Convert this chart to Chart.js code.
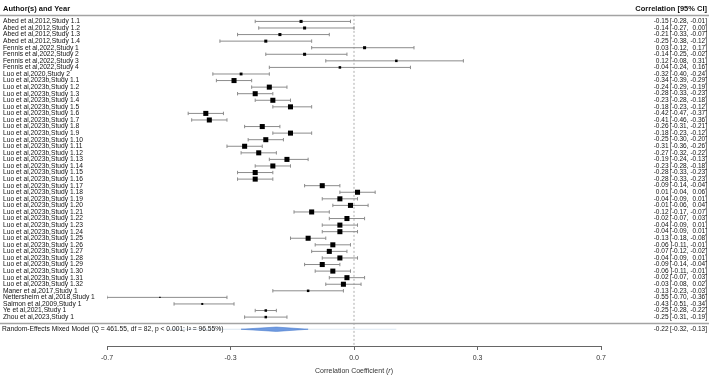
<!DOCTYPE html>
<html>
<head>
<meta charset="utf-8">
<script src="https://cdn.jsdelivr.net/npm/chart.js@4.4.1/dist/chart.umd.min.js"></script>
<style>
  html, body { margin: 0; padding: 0; background: #fff; }
  #wrap { width: 709px; height: 375px; position: relative; }
</style>
</head>
<body>
<div id="wrap"><canvas id="forest"></canvas></div>
<script>
const labels = [
    'Abed et al,2012,Study 1.1', 'Abed et al,2012,Study 1.2', 'Abed et al,2012,Study 1.3', 'Abed et al,2012,Study 1.4',
    'Fennis et al,2022,Study 1', 'Fennis et al,2022,Study 2', 'Fennis et al,2022,Study 3', 'Fennis et al,2022,Study 4',
    'Luo et al,2020,Study 2',
    'Luo et al,2023b,Study 1.1', 'Luo et al,2023b,Study 1.2', 'Luo et al,2023b,Study 1.3', 'Luo et al,2023b,Study 1.4',
    'Luo et al,2023b,Study 1.5', 'Luo et al,2023b,Study 1.6', 'Luo et al,2023b,Study 1.7', 'Luo et al,2023b,Study 1.8',
    'Luo et al,2023b,Study 1.9', 'Luo et al,2023b,Study 1.10', 'Luo et al,2023b,Study 1.11', 'Luo et al,2023b,Study 1.12',
    'Luo et al,2023b,Study 1.13', 'Luo et al,2023b,Study 1.14', 'Luo et al,2023b,Study 1.15', 'Luo et al,2023b,Study 1.16',
    'Luo et al,2023b,Study 1.17', 'Luo et al,2023b,Study 1.18', 'Luo et al,2023b,Study 1.19', 'Luo et al,2023b,Study 1.20',
    'Luo et al,2023b,Study 1.21', 'Luo et al,2023b,Study 1.22', 'Luo et al,2023b,Study 1.23', 'Luo et al,2023b,Study 1.24',
    'Luo et al,2023b,Study 1.25', 'Luo et al,2023b,Study 1.26', 'Luo et al,2023b,Study 1.27', 'Luo et al,2023b,Study 1.28',
    'Luo et al,2023b,Study 1.29', 'Luo et al,2023b,Study 1.30', 'Luo et al,2023b,Study 1.31', 'Luo et al,2023b,Study 1.32',
    'Maner et al,2017,Study 1', 'Nettersheim et al,2018,Study 1', 'Salmon et al,2009,Study 1',
    'Ye et al,2021,Study 1', 'Zhou et al,2023,Study 1'
];

const estimates = [
    -0.15, -0.14, -0.21, -0.25,
    0.03, -0.14, 0.12, -0.04,
    -0.32,
    -0.34, -0.24, -0.28, -0.23, -0.18, -0.42, -0.41, -0.26,
    -0.18, -0.25, -0.31, -0.27, -0.19, -0.23, -0.28, -0.28,
    -0.09, 0.01, -0.04, -0.01, -0.12, -0.02, -0.04, -0.04,
    -0.13, -0.06, -0.07, -0.04, -0.09, -0.06, -0.02, -0.03,
    -0.13, -0.55, -0.43, -0.25, -0.25
];

const ciLow = [
    -0.28, -0.27, -0.33, -0.38,
    -0.12, -0.25, -0.08, -0.24,
    -0.40,
    -0.39, -0.29, -0.33, -0.28, -0.23, -0.47, -0.46, -0.31,
    -0.23, -0.30, -0.36, -0.32, -0.24, -0.28, -0.33, -0.33,
    -0.14, -0.04, -0.09, -0.06, -0.17, -0.07, -0.09, -0.09,
    -0.18, -0.11, -0.12, -0.09, -0.14, -0.11, -0.07, -0.08,
    -0.23, -0.70, -0.51, -0.28, -0.31
];

const ciHigh = [
    -0.01, -0.00, -0.07, -0.12,
    0.17, -0.02, 0.31, 0.16,
    -0.24,
    -0.29, -0.19, -0.23, -0.18, -0.12, -0.37, -0.36, -0.21,
    -0.12, -0.20, -0.26, -0.22, -0.13, -0.18, -0.23, -0.23,
    -0.04, 0.06, 0.01, 0.04, -0.07, 0.03, 0.01, 0.01,
    -0.08, -0.01, -0.02, 0.01, -0.04, -0.01, 0.03, 0.02,
    -0.03, -0.36, -0.34, -0.22, -0.19
];

// relative study weights (drive the square size)
const weights = [
    1.45, 1.45, 1.45, 1.45,
    1.45, 1.45, 1.2, 1.2,
    1.35,
    2.4, 2.4, 2.4, 2.4, 2.4, 2.4, 2.4, 2.4,
    2.4, 2.4, 2.4, 2.4, 2.4, 2.4, 2.4, 2.4,
    2.4, 2.4, 2.4, 2.4, 2.4, 2.4, 2.4, 2.4,
    2.4, 2.4, 2.4, 2.4, 2.4, 2.4, 2.4, 2.4,
    1.2, 0.7, 0.95, 1.2, 1.2
];

const pooledEst = -0.22;
const pooledLow = -0.32;
const pooledHigh = -0.13;
const predLow = -0.53;
const predHigh = 0.12;
const modelText = 'Random-Effects Mixed Model (Q = 461.55, df = 82, p < 0.001; I\u00B2 = 96.55%)';

const xTicks = [-0.7, -0.35, 0, 0.35, 0.7];
const xTickLabels = ['-0.7', '-0.3', '0.0', '0.3', '0.7'];

const FONT = 'Liberation Sans, Arial, sans-serif';
const nRows = labels.length;
const summaryRow = nRows + 1.85;
const ruleRow = nRows + 0.93;
const headerRow = -0.85;

function fmt(v) {
    return (v < 0 ? '-' : '') + Math.abs(v).toFixed(2);
}

const pointData = estimates.map((e, i) => ({ x: e, y: i + 1 }));
const ciData = [];
estimates.forEach((e, i) => {
    ciData.push({ x: ciLow[i], y: i + 1 });
    ciData.push({ x: ciHigh[i], y: i + 1 });
    ciData.push({ x: null, y: null });
});
const diamondH = 0.33;
const diamondData = [
    { x: pooledLow, y: summaryRow },
    { x: pooledEst, y: summaryRow - diamondH },
    { x: pooledHigh, y: summaryRow },
    { x: pooledEst, y: summaryRow + diamondH },
    { x: pooledLow, y: summaryRow }
];

const textPlugin = {
    id: 'forestText',
    afterDraw(chart) {
        const ctx = chart.ctx;
        const y = chart.scales.y;
        const x = chart.scales.x;
        const W = chart.width;
        ctx.save();

        // rules
        ctx.strokeStyle = '#a3a3a3';
        ctx.lineWidth = 1.5;
        [0, ruleRow].forEach(r => {
            const py = Math.round(y.getPixelForValue(r)) + 0.5;
            ctx.beginPath();
            ctx.moveTo(0, py);
            ctx.lineTo(W, py);
            ctx.stroke();
        });

        ctx.fillStyle = '#111';
        ctx.textBaseline = 'middle';

        // headers
        ctx.font = 'bold 7.5px ' + FONT;
        ctx.textAlign = 'left';
        ctx.fillText('Author(s) and Year', 3, y.getPixelForValue(headerRow));
        ctx.textAlign = 'right';
        ctx.fillText('Correlation [95% CI]', W - 2, y.getPixelForValue(headerRow));

        // study labels
        ctx.font = '6.7px ' + FONT;
        ctx.textAlign = 'left';
        labels.forEach((lab, i) => {
            ctx.fillText(lab, 3, y.getPixelForValue(i + 1));
        });
        ctx.fillText(modelText, 2, y.getPixelForValue(summaryRow));

        // annotation column
        ctx.font = '6.5px ' + FONT;
        ctx.textAlign = 'right';
        const drawCI = (e, lo, hi, py) => {
            ctx.fillText(fmt(e), W - 40.5, py);
            ctx.fillText('[' + fmt(lo) + ',', W - 20.5, py);
            ctx.fillText(fmt(hi) + ']', W - 2, py);
        };
        estimates.forEach((e, i) => drawCI(e, ciLow[i], ciHigh[i], y.getPixelForValue(i + 1)));
        drawCI(pooledEst, pooledLow, pooledHigh, y.getPixelForValue(summaryRow));

        // axis title with italic r
        ctx.font = '7px ' + FONT;
        ctx.fillStyle = '#333';
        const a = 'Correlation Coefficient (';
        const c = ')';
        const wa = ctx.measureText(a).width;
        const wc = ctx.measureText(c).width;
        ctx.font = 'italic 7px ' + FONT;
        const wb = ctx.measureText('r').width;
        let px = x.getPixelForValue(0) - (wa + wb + wc) / 2;
        const ty = chart.height - 4;
        ctx.textAlign = 'left';
        ctx.font = '7px ' + FONT;
        ctx.fillText(a, px, ty);
        ctx.font = 'italic 7px ' + FONT;
        ctx.fillText('r', px + wa, ty);
        ctx.font = '7px ' + FONT;
        ctx.fillText(c, px + wa + wb, ty);

        ctx.restore();
    }
};

new Chart(document.getElementById('forest'), {
    type: 'scatter',
    data: {
        datasets: [
            {
                data: pointData,
                pointStyle: 'rect',
                pointRadius: weights.map(w => (w * 2.1) / Math.SQRT2),
                backgroundColor: '#000',
                borderWidth: 0,
                order: 0
            },
            {
                data: ciData,
                showLine: true,
                spanGaps: false,
                borderColor: '#8c8c8c',
                borderWidth: 1,
                pointStyle: 'line',
                rotation: 90,
                pointRadius: 1.7,
                pointBorderWidth: 1,
                pointBorderColor: '#8c8c8c',
                order: 1
            },
            {
                data: diamondData,
                showLine: true,
                fill: 'shape',
                backgroundColor: '#6f9ae0',
                borderColor: '#4f7fcf',
                borderWidth: 0.6,
                pointRadius: 0,
                order: 2
            },
            {
                data: [{ x: predLow, y: summaryRow }, { x: predHigh, y: summaryRow }],
                showLine: true,
                borderColor: '#dbe7f2',
                borderWidth: 1,
                pointRadius: 0,
                order: 3
            },
            {
                data: [{ x: 0, y: 0 }, { x: 0, y: nRows + 4.4 }],
                showLine: true,
                borderColor: '#9a9a9a',
                borderWidth: 0.8,
                borderDash: [2, 2],
                pointRadius: 0,
                order: 4
            }
        ]
    },
    options: {
        responsive: true,
        maintainAspectRatio: false,
        animation: false,
        events: [],
        layout: { padding: { left: 107, right: 108, top: 0, bottom: 0 } },
        plugins: {
            legend: { display: false },
            tooltip: { enabled: false }
        },
        scales: {
            x: {
                type: 'linear',
                min: -0.7,
                max: 0.7,
                afterBuildTicks: scale => {
                    scale.ticks = xTicks.map(v => ({ value: v }));
                },
                afterFit: scale => {
                    scale.height = 29;
                },
                ticks: {
                    autoSkip: false,
                    maxRotation: 0,
                    padding: 3.5,
                    color: '#333',
                    font: { family: FONT, size: 7 },
                    callback: (v, i) => xTickLabels[i]
                },
                grid: {
                    display: true,
                    drawOnChartArea: false,
                    drawTicks: true,
                    tickLength: 4,
                    color: '#666'
                },
                border: { display: true, color: '#666', width: 1 }
            },
            y: {
                type: 'linear',
                display: false,
                reverse: true,
                min: -1.5,
                max: nRows + 4.4
            }
        }
    },
    plugins: [textPlugin]
});
</script>
</body>
</html>
